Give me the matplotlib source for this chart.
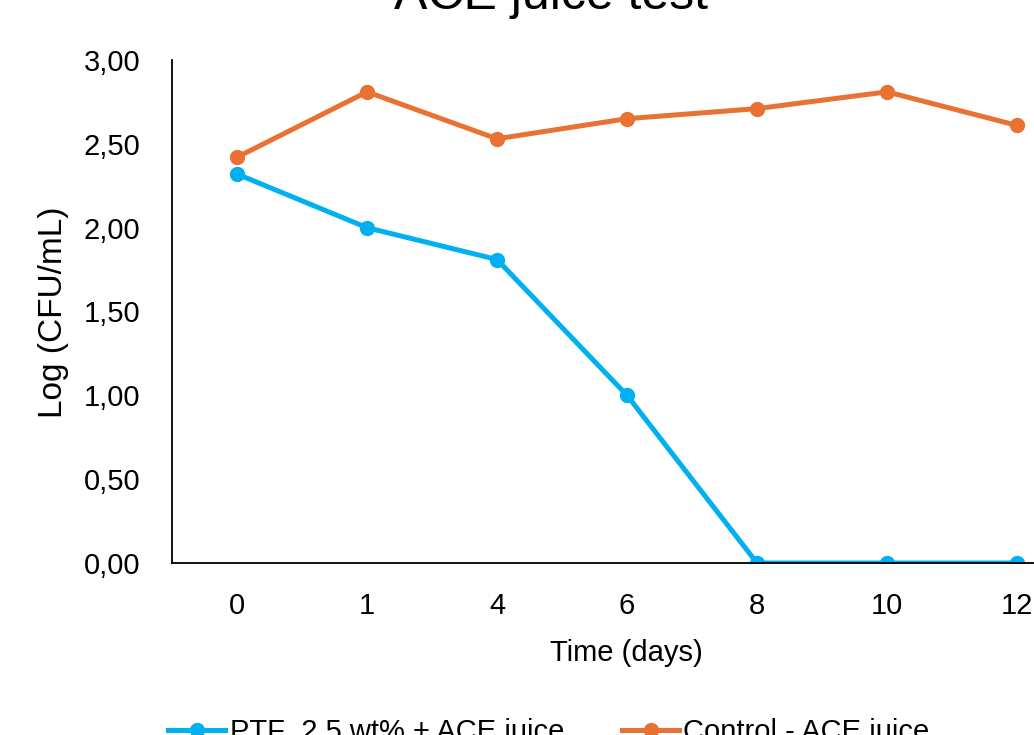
import numpy as np
import matplotlib.pyplot as plt

# Sampling days and log counts for both samples
days = ['0', '1', '4', '6', '8', '10', '12']
ptf_juice = [2.32, 2.00, 1.81, 1.00, 0.00, 0.00, 0.00]
control_juice = [2.42, 2.81, 2.53, 2.65, 2.71, 2.81, 2.61]
y_ticks = [0.0, 0.5, 1.0, 1.5, 2.0, 2.5, 3.0]

plt.rcParams['font.family'] = ['Liberation Sans', 'DejaVu Sans']

W, H = 1034, 735
fig = plt.figure(figsize=(W / 100, H / 100), dpi=100)
# plot area in pixels: left 172, right 1082 (runs past the canvas), top 60, bottom 563
ax = fig.add_axes([172 / W, (H - 563) / H, 910 / W, 503 / H])

x = np.arange(len(days))
ax.plot(x, ptf_juice, color='#00B0F0', linewidth=3.6, marker='o', markersize=10,
        label='PTF_2.5 wt% + ACE juice')
ax.plot(x, control_juice, color='#E97132', linewidth=3.6, marker='o', markersize=10,
        label='Control - ACE juice')

ax.set_xlim(-0.5, len(days) - 0.5)
ax.set_ylim(0, 3)
ax.set_xticks(x)
ax.set_xticklabels(days)
ax.set_yticks(y_ticks)
ax.set_yticklabels([f'{v:.2f}'.replace('.', ',') for v in y_ticks])
ax.tick_params(length=0, labelsize=21)
ax.tick_params(axis='x', pad=21)
ax.tick_params(axis='y', pad=23)

for side in ['top', 'right']:
    ax.spines[side].set_visible(False)
for side in ['left', 'bottom']:
    ax.spines[side].set_linewidth(1.3)
    ax.spines[side].set_color('black')

ax.set_xlabel('Time (days)', fontsize=21, va='center')
ax.xaxis.set_label_coords(0.499, -0.179)
ax.set_ylabel('Log (CFU/mL)', fontsize=24, va='center')
ax.yaxis.set_label_coords(-0.130, 0.499)

fig.text(551 / W, (H - 9) / H, 'ACE juice test', fontsize=36,
         ha='center', va='baseline')

fig.legend(loc='center', bbox_to_anchor=(549 / W, (H - 732) / H), ncol=2,
           frameon=False, fontsize=21, handlelength=1.95, columnspacing=2.0,
           handletextpad=0.15)

fig.savefig('out.png', dpi=100)
